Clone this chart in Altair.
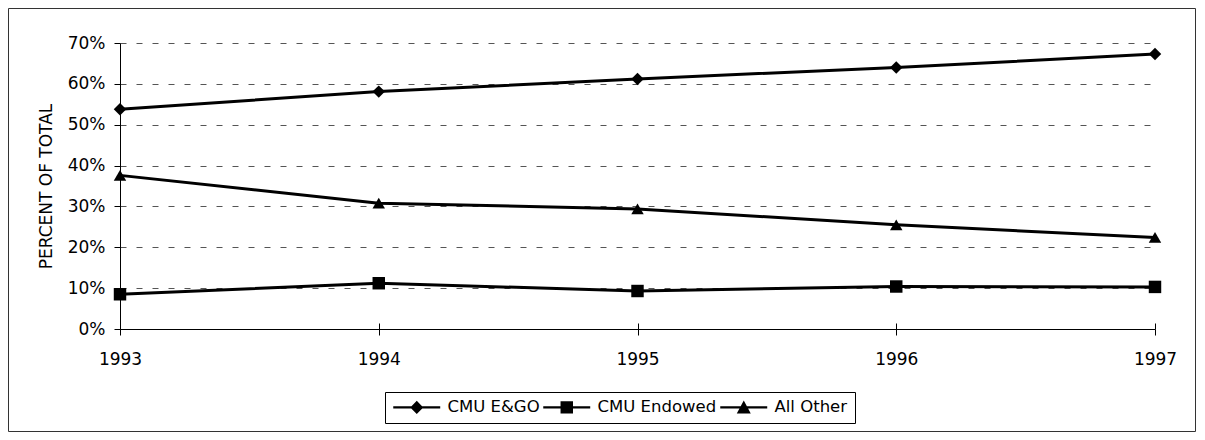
import altair as alt
import pandas as pd

years = ["1993", "1994", "1995", "1996", "1997"]
series_names = ["CMU E&GO", "CMU Endowed", "All Other"]
ego = [53.8, 58.1, 61.2, 64.0, 67.3]
endowed = [8.5, 11.2, 9.3, 10.4, 10.3]
other = [37.6, 30.8, 29.4, 25.5, 22.4]
y_ticks = [0, 0.1, 0.2, 0.3, 0.4, 0.5, 0.6, 0.7]

rows = []
for name, vals in zip(series_names, [ego, endowed, other]):
    for yr, v in zip(years, vals):
        rows.append({"year": yr, "series": name, "value": v / 100.0})
df = pd.DataFrame(rows)

FONT = "DejaVu Sans"

x_scale = alt.Scale(padding=0)
x_main = alt.X(
    "year:O", sort=years, scale=x_scale,
    axis=alt.Axis(
        title=None, orient="bottom", labelAngle=0, labelFontSize=17, labelFont=FONT,
        labelColor="black", tickSize=6, labelPadding=16, domainColor="black",
        tickColor="black", grid=False,
    ),
)
x_ticks_up = alt.X(
    "year:O", sort=years, scale=x_scale,
    axis=alt.Axis(
        title=None, orient="bottom", labels=False, domain=False, tickSize=6, offset=-6,
        tickColor="black", grid=False,
    ),
)
x_none = alt.X("year:O", sort=years, scale=x_scale, axis=None)

y_axis = alt.Axis(
    title="PERCENT OF TOTAL", values=y_ticks, format=".0%",
    labelFontSize=17, labelFont=FONT, labelColor="black", labelPadding=9,
    tickSize=6, domainColor="black", tickColor="black",
    grid=True, gridColor="#555555", gridDash=[6, 10], gridWidth=1,
    titleFont=FONT, titleFontSize=17, titleFontWeight="normal", titleColor="black",
    titleAngle=270, titleX=-74, titleY=143, titleAlign="center", titleBaseline="middle",
)
y_enc = alt.Y("value:Q", scale=alt.Scale(domain=[0, 0.7], nice=False), axis=y_axis)

base = alt.Chart(df)

lines = base.mark_line(color="black", strokeWidth=3).encode(
    x=x_main, y=y_enc, detail="series:N"
)

points = base.mark_point(filled=True, color="black", opacity=1, size=155).encode(
    x=x_ticks_up,
    y=y_enc,
    shape=alt.Shape(
        "series:N",
        scale=alt.Scale(domain=series_names, range=["diamond", "square", "triangle-up"]),
        legend=None,
    ),
)

# legend symbols: a filled bar (the line) plus the marker, drawn in units of 7 px
legend_paths = [
    "M-1,-0.17H5.71V0.17H-1Z M2.36,-0.93L3.29,0L2.36,0.93L1.43,0Z",
    "M-1,-0.17H5.71V0.17H-1Z M1.47,-0.89H3.25V0.89H1.47Z",
    "M-1,-0.17H5.71V0.17H-1Z M2.36,-0.98L3.36,0.86L1.36,0.86Z",
]

legend_layer = base.transform_filter("false").mark_point(
    filled=True, color="black", size=196
).encode(
    x=x_none,
    y=y_enc,
    shape=alt.Shape(
        "series:N",
        scale=alt.Scale(domain=series_names, range=legend_paths),
        legend=alt.Legend(
            title=None, orient="none", legendX=265, legendY=349, direction="horizontal",
            strokeColor="black", fillColor="white", padding=7,
            labelFont=FONT, labelFontSize=16.5, labelColor="black", labelOffset=39,
            columnPadding=2, symbolSize=196, symbolFillColor="black",
            symbolStrokeWidth=0, symbolOpacity=1,
        ),
    ),
)

frame = alt.Chart(alt.Data(values=[{"a": 1}])).mark_rect(
    filled=False, stroke="#333333", strokeWidth=1
).encode(
    x=alt.value(-111.5), x2=alt.value(1075.5), y=alt.value(-34.5), y2=alt.value(388.5)
)

chart = alt.layer(frame, lines, points, legend_layer).resolve_scale(
    shape="independent"
).resolve_axis(x="independent").properties(
    width=1035, height=286,
    background="white",
    autosize=alt.AutoSizeParams(type="none"),
    padding={"left": 112, "top": 35, "right": 41, "bottom": 103},
).configure_view(stroke="transparent", strokeWidth=0)

chart.save("out.html", embed_options={"renderer": "svg", "actions": False})
